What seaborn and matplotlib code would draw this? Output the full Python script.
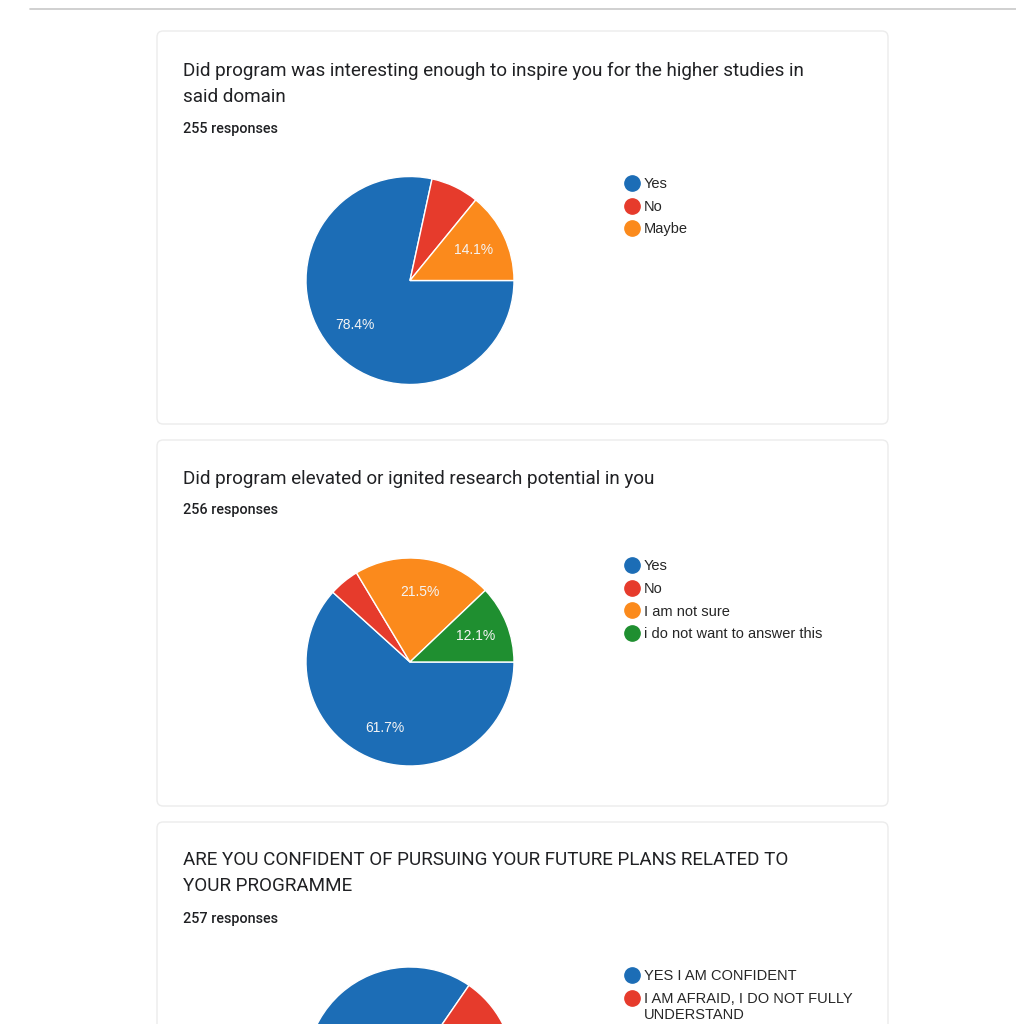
import matplotlib
matplotlib.use("Agg")
import matplotlib.pyplot as plt
import seaborn as sns
from matplotlib.lines import Line2D
from matplotlib.patches import FancyBboxPatch
from matplotlib.legend_handler import HandlerLine2D

# Survey data (percent of responses)
q1_title = "Did program was interesting enough to inspire you for the higher studies in\nsaid domain"
q1_count = "255 responses"
q1_labels = ["Yes", "No", "Maybe"]
q1_values = [78.4, 7.5, 14.1]

q2_title = "Did program elevated or ignited research potential in you"
q2_count = "256 responses"
q2_labels = ["Yes", "No", "I am not sure", "i do not want to answer this"]
q2_values = [61.7, 4.7, 21.5, 12.1]

q3_title = "ARE YOU CONFIDENT OF PURSUING YOUR FUTURE PLANS RELATED TO\nYOUR PROGRAMME"
q3_count = "257 responses"
q3_labels = ["YES I AM CONFIDENT", "I AM AFRAID, I DO NOT FULLY\nUNDERSTAND"]
q3_values = [84.6, 15.4]

sns.set_theme(style="white")
colors = sns.color_palette(["#1c6db6", "#e63b2c", "#fb8a1c", "#1f8f30"])

W, H = 1016, 1024
fig = plt.figure(figsize=(W / 100, H / 100), dpi=100)
fig.patch.set_facecolor("white")


def fx(x):
    return x / W


def fy(y):
    return 1 - y / H


class TopMarker(HandlerLine2D):
    # keep the dot on the first line of a wrapped label
    def create_artists(self, legend, orig_handle, xdescent, ydescent, width, height, fontsize, trans):
        artists = super().create_artists(legend, orig_handle, xdescent, ydescent,
                                         width, height, fontsize, trans)
        nlines = orig_handle.get_label().count("\n")
        if nlines:
            for a in artists:
                a.set_ydata([y + 0.62 * fontsize * nlines for y in a.get_ydata()])
        return artists


# top separator line
fig.add_artist(Line2D([fx(30), 1], [fy(9), fy(9)], color="#c8c8c8", lw=1.2, zorder=-2))

# cards
for top, bottom in [(31, 424), (440, 806), (822, 1060)]:
    card = FancyBboxPatch((fx(157), fy(bottom)), fx(888) - fx(157), fy(top) - fy(bottom),
                          boxstyle="round,pad=0,rounding_size=0.006",
                          transform=fig.transFigure, facecolor="white",
                          edgecolor="#ececec", lw=1.0, zorder=-2)
    fig.add_artist(card)


def draw_question(title, count, labels, values, title_y, count_y, center_y, legend_y, show_pct=True):
    fig.text(fx(183), fy(title_y), title, fontsize=13.6, family="Roboto",
             color="#202124", va="top", linespacing=1.6)
    fig.text(fx(183), fy(count_y), count, fontsize=10.4, family="Roboto",
             weight="medium", color="#202124", va="center")

    r = 104
    ax = fig.add_axes([fx(410 - r), fy(center_y + r), 2 * r / W, 2 * r / H])
    pct = (lambda p: f"{p:.1f}%" if p > 10 else "") if show_pct else None
    ax.pie(values, colors=colors[:len(values)], startangle=0, counterclock=False,
           autopct=pct, pctdistance=0.68,
           wedgeprops=dict(edgecolor="white", linewidth=1.0, clip_on=False),
           textprops=dict(color="#f4f4f4", fontsize=10, family="Liberation Sans"))
    ax.set_xlim(-1, 1)
    ax.set_ylim(-1, 1)
    ax.set_aspect("equal")
    ax.axis("off")

    handles = [Line2D([0], [0], marker="o", color="none", markerfacecolor=c,
                      markeredgecolor=c, markersize=11, label=lab)
               for c, lab in zip(colors[:len(values)], labels)]
    fig.legend(handles, labels, loc="upper left", frameon=False,
               bbox_to_anchor=(fx(625), fy(legend_y)), borderpad=0, borderaxespad=0,
               handlelength=1.0, handletextpad=0.3, labelspacing=0.6,
               handler_map={Line2D: TopMarker()},
               prop=dict(family="Liberation Sans", size=10.5))


draw_question(q1_title, q1_count, q1_labels, q1_values, 62, 129, 280.5, 177)
draw_question(q2_title, q2_count, q2_labels, q2_values, 470, 510, 662, 559)
draw_question(q3_title, q3_count, q3_labels, q3_values, 851, 919, 1071, 969, show_pct=False)

fig.savefig("out.png", dpi=100)
